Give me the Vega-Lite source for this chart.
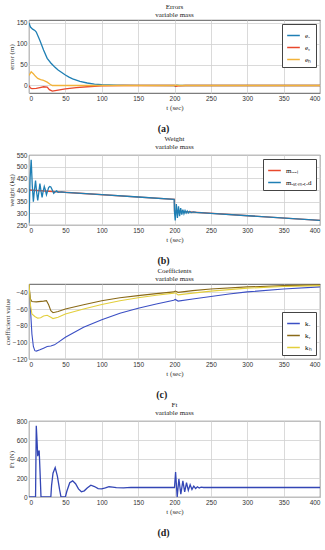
{
  "$schema": "https://vega.github.io/schema/vega-lite/v6.json",
  "padding": {"left": 2, "top": 2, "right": 6, "bottom": 1},
  "background": "white",
  "spacing": 0,
  "config": {
    "font": "Liberation Serif",
    "view": {"stroke": "#333333", "strokeWidth": 0.8},
    "axis": {"labelFont": "Liberation Sans", "titleFont": "Liberation Serif", "labelFontSize": 6.5, "titleFontSize": 7, "titleFontWeight": "normal", "labelColor": "#333", "titleColor": "#333", "gridColor": "#d0d0d0", "gridWidth": 0.8, "domain": false, "ticks": false, "labelPadding": 2, "titlePadding": 2},
    "legend": {"labelFont": "Liberation Serif", "labelFontSize": 7, "symbolType": "stroke", "symbolSize": 160, "strokeColor": "#444", "fillColor": "white", "padding": 4, "rowPadding": 1, "title": null, "labelLimit": 200},
    "title": {"font": "Liberation Serif", "fontSize": 7, "fontWeight": "normal", "color": "#222", "lineHeight": 8, "offset": 2}
  },
  "resolve": {"scale": {"color": "independent"}, "legend": {"color": "independent"}},
  "datasets": {
    "errs": [
      {"t": 0, "s": "eₓ", "v": 150}, {"t": 2, "s": "eₓ", "v": 140}, {"t": 5, "s": "eₓ", "v": 135}, {"t": 8, "s": "eₓ", "v": 132}, {"t": 10, "s": "eₓ", "v": 128}, {"t": 15, "s": "eₓ", "v": 108}, {"t": 20, "s": "eₓ", "v": 85}, {"t": 25, "s": "eₓ", "v": 65}, {"t": 30, "s": "eₓ", "v": 54}, {"t": 35, "s": "eₓ", "v": 45}, {"t": 40, "s": "eₓ", "v": 37}, {"t": 45, "s": "eₓ", "v": 31}, {"t": 50, "s": "eₓ", "v": 25}, {"t": 55, "s": "eₓ", "v": 20}, {"t": 60, "s": "eₓ", "v": 16}, {"t": 70, "s": "eₓ", "v": 10}, {"t": 80, "s": "eₓ", "v": 6}, {"t": 90, "s": "eₓ", "v": 3.5}, {"t": 100, "s": "eₓ", "v": 2}, {"t": 120, "s": "eₓ", "v": 1}, {"t": 150, "s": "eₓ", "v": 0.3}, {"t": 200, "s": "eₓ", "v": 0}, {"t": 201, "s": "eₓ", "v": -2}, {"t": 203, "s": "eₓ", "v": 1}, {"t": 207, "s": "eₓ", "v": 0}, {"t": 300, "s": "eₓ", "v": 0}, {"t": 400, "s": "eₓ", "v": 0},
      {"t": 0, "s": "eᵧ", "v": 0}, {"t": 2, "s": "eᵧ", "v": -6}, {"t": 4, "s": "eᵧ", "v": -7.5}, {"t": 10, "s": "eᵧ", "v": -7}, {"t": 15, "s": "eᵧ", "v": -5}, {"t": 20, "s": "eᵧ", "v": -3}, {"t": 25, "s": "eᵧ", "v": -4}, {"t": 28, "s": "eᵧ", "v": -10}, {"t": 32, "s": "eᵧ", "v": -13.5}, {"t": 40, "s": "eᵧ", "v": -11}, {"t": 50, "s": "eᵧ", "v": -8}, {"t": 65, "s": "eᵧ", "v": -5}, {"t": 80, "s": "eᵧ", "v": -3}, {"t": 100, "s": "eᵧ", "v": -1}, {"t": 130, "s": "eᵧ", "v": 0}, {"t": 200, "s": "eᵧ", "v": 0}, {"t": 202, "s": "eᵧ", "v": -2}, {"t": 206, "s": "eᵧ", "v": -1}, {"t": 215, "s": "eᵧ", "v": 0}, {"t": 400, "s": "eᵧ", "v": 0},
      {"t": 0, "s": "eₕ", "v": 24}, {"t": 3, "s": "eₕ", "v": 33}, {"t": 6, "s": "eₕ", "v": 28}, {"t": 9, "s": "eₕ", "v": 22}, {"t": 12, "s": "eₕ", "v": 17}, {"t": 16, "s": "eₕ", "v": 14}, {"t": 20, "s": "eₕ", "v": 12}, {"t": 25, "s": "eₕ", "v": 8}, {"t": 29, "s": "eₕ", "v": 3}, {"t": 32, "s": "eₕ", "v": 0}, {"t": 200, "s": "eₕ", "v": 0}, {"t": 202, "s": "eₕ", "v": 1}, {"t": 205, "s": "eₕ", "v": 0}, {"t": 400, "s": "eₕ", "v": 0}
    ],
    "weight": [
      {"t": 0, "s": "mᵣₑₐₗ", "v": 400}, {"t": 199.9, "s": "mᵣₑₐₗ", "v": 360}, {"t": 200, "s": "mᵣₑₐₗ", "v": 310}, {"t": 400, "s": "mᵣₑₐₗ", "v": 270},
      {"t": 0, "s": "mₑₛₜᵢₘₐₜₑd", "v": 260}, {"t": 1.5, "s": "mₑₛₜᵢₘₐₜₑd", "v": 450}, {"t": 3, "s": "mₑₛₜᵢₘₐₜₑd", "v": 530}, {"t": 4.5, "s": "mₑₛₜᵢₘₐₜₑd", "v": 420}, {"t": 6, "s": "mₑₛₜᵢₘₐₜₑd", "v": 350}, {"t": 7.5, "s": "mₑₛₜᵢₘₐₜₑd", "v": 400}, {"t": 9, "s": "mₑₛₜᵢₘₐₜₑd", "v": 440}, {"t": 10.5, "s": "mₑₛₜᵢₘₐₜₑd", "v": 390}, {"t": 12, "s": "mₑₛₜᵢₘₐₜₑd", "v": 355}, {"t": 13.5, "s": "mₑₛₜᵢₘₐₜₑd", "v": 390}, {"t": 15, "s": "mₑₛₜᵢₘₐₜₑd", "v": 428}, {"t": 16.5, "s": "mₑₛₜᵢₘₐₜₑd", "v": 395}, {"t": 18, "s": "mₑₛₜᵢₘₐₜₑd", "v": 368}, {"t": 19.5, "s": "mₑₛₜᵢₘₐₜₑd", "v": 395}, {"t": 21, "s": "mₑₛₜᵢₘₐₜₑd", "v": 415}, {"t": 22.5, "s": "mₑₛₜᵢₘₐₜₑd", "v": 400}, {"t": 24, "s": "mₑₛₜᵢₘₐₜₑd", "v": 380}, {"t": 25.5, "s": "mₑₛₜᵢₘₐₜₑd", "v": 395}, {"t": 27, "s": "mₑₛₜᵢₘₐₜₑd", "v": 410}, {"t": 28.5, "s": "mₑₛₜᵢₘₐₜₑd", "v": 415}, {"t": 30, "s": "mₑₛₜᵢₘₐₜₑd", "v": 413}, {"t": 32, "s": "mₑₛₜᵢₘₐₜₑd", "v": 400}, {"t": 34, "s": "mₑₛₜᵢₘₐₜₑd", "v": 386}, {"t": 36, "s": "mₑₛₜᵢₘₐₜₑd", "v": 392}, {"t": 38, "s": "mₑₛₜᵢₘₐₜₑd", "v": 396}, {"t": 40, "s": "mₑₛₜᵢₘₐₜₑd", "v": 390}, {"t": 45, "s": "mₑₛₜᵢₘₐₜₑd", "v": 392}, {"t": 50, "s": "mₑₛₜᵢₘₐₜₑd", "v": 390}, {"t": 100, "s": "mₑₛₜᵢₘₐₜₑd", "v": 380}, {"t": 150, "s": "mₑₛₜᵢₘₐₜₑd", "v": 370}, {"t": 199.5, "s": "mₑₛₜᵢₘₐₜₑd", "v": 360}, {"t": 200, "s": "mₑₛₜᵢₘₐₜₑd", "v": 305}, {"t": 201, "s": "mₑₛₜᵢₘₐₜₑd", "v": 270}, {"t": 202.5, "s": "mₑₛₜᵢₘₐₜₑd", "v": 340}, {"t": 204, "s": "mₑₛₜᵢₘₐₜₑd", "v": 280}, {"t": 205.5, "s": "mₑₛₜᵢₘₐₜₑd", "v": 330}, {"t": 207, "s": "mₑₛₜᵢₘₐₜₑd", "v": 288}, {"t": 208.5, "s": "mₑₛₜᵢₘₐₜₑd", "v": 322}, {"t": 210, "s": "mₑₛₜᵢₘₐₜₑd", "v": 294}, {"t": 211.5, "s": "mₑₛₜᵢₘₐₜₑd", "v": 316}, {"t": 213, "s": "mₑₛₜᵢₘₐₜₑd", "v": 298}, {"t": 214.5, "s": "mₑₛₜᵢₘₐₜₑd", "v": 312}, {"t": 216, "s": "mₑₛₜᵢₘₐₜₑd", "v": 301}, {"t": 217.5, "s": "mₑₛₜᵢₘₐₜₑd", "v": 310}, {"t": 219, "s": "mₑₛₜᵢₘₐₜₑd", "v": 302}, {"t": 221, "s": "mₑₛₜᵢₘₐₜₑd", "v": 308}, {"t": 223, "s": "mₑₛₜᵢₘₐₜₑd", "v": 303}, {"t": 226, "s": "mₑₛₜᵢₘₐₜₑd", "v": 306}, {"t": 230, "s": "mₑₛₜᵢₘₐₜₑd", "v": 304}, {"t": 250, "s": "mₑₛₜᵢₘₐₜₑd", "v": 300}, {"t": 400, "s": "mₑₛₜᵢₘₐₜₑd", "v": 270}
    ],
    "coef": [
      {"t": 0, "s": "kₓ", "v": -30}, {"t": 2, "s": "kₓ", "v": -60}, {"t": 4, "s": "kₓ", "v": -90}, {"t": 6, "s": "kₓ", "v": -105}, {"t": 8, "s": "kₓ", "v": -110}, {"t": 10, "s": "kₓ", "v": -110.5}, {"t": 15, "s": "kₓ", "v": -109}, {"t": 20, "s": "kₓ", "v": -107}, {"t": 25, "s": "kₓ", "v": -105}, {"t": 30, "s": "kₓ", "v": -104.5}, {"t": 35, "s": "kₓ", "v": -103}, {"t": 40, "s": "kₓ", "v": -100}, {"t": 50, "s": "kₓ", "v": -94}, {"t": 60, "s": "kₓ", "v": -89}, {"t": 75, "s": "kₓ", "v": -82}, {"t": 100, "s": "kₓ", "v": -73}, {"t": 125, "s": "kₓ", "v": -65}, {"t": 150, "s": "kₓ", "v": -59}, {"t": 175, "s": "kₓ", "v": -54}, {"t": 199, "s": "kₓ", "v": -49.5}, {"t": 201, "s": "kₓ", "v": -48.5}, {"t": 205, "s": "kₓ", "v": -50.5}, {"t": 225, "s": "kₓ", "v": -48}, {"t": 250, "s": "kₓ", "v": -45}, {"t": 275, "s": "kₓ", "v": -42}, {"t": 300, "s": "kₓ", "v": -39.5}, {"t": 350, "s": "kₓ", "v": -36}, {"t": 400, "s": "kₓ", "v": -33.5},
      {"t": 0, "s": "kᵧ", "v": -30}, {"t": 1, "s": "kᵧ", "v": -40}, {"t": 2, "s": "kᵧ", "v": -48}, {"t": 4, "s": "kᵧ", "v": -51}, {"t": 10, "s": "kᵧ", "v": -51.5}, {"t": 20, "s": "kᵧ", "v": -50.5}, {"t": 24, "s": "kᵧ", "v": -50}, {"t": 27, "s": "kᵧ", "v": -55}, {"t": 30, "s": "kᵧ", "v": -62}, {"t": 33, "s": "kᵧ", "v": -64.5}, {"t": 40, "s": "kᵧ", "v": -63}, {"t": 50, "s": "kᵧ", "v": -60}, {"t": 75, "s": "kᵧ", "v": -55}, {"t": 100, "s": "kᵧ", "v": -50}, {"t": 125, "s": "kᵧ", "v": -46.5}, {"t": 150, "s": "kᵧ", "v": -44}, {"t": 175, "s": "kᵧ", "v": -41.5}, {"t": 199, "s": "kᵧ", "v": -39.5}, {"t": 201, "s": "kᵧ", "v": -38.5}, {"t": 205, "s": "kᵧ", "v": -40}, {"t": 225, "s": "kᵧ", "v": -38}, {"t": 250, "s": "kᵧ", "v": -36}, {"t": 300, "s": "kᵧ", "v": -33.5}, {"t": 350, "s": "kᵧ", "v": -32}, {"t": 400, "s": "kᵧ", "v": -31},
      {"t": 0, "s": "kₕ", "v": -30}, {"t": 2, "s": "kₕ", "v": -55}, {"t": 4, "s": "kₕ", "v": -66}, {"t": 8, "s": "kₕ", "v": -69}, {"t": 12, "s": "kₕ", "v": -71}, {"t": 16, "s": "kₕ", "v": -70.5}, {"t": 20, "s": "kₕ", "v": -68.5}, {"t": 25, "s": "kₕ", "v": -67.5}, {"t": 30, "s": "kₕ", "v": -70}, {"t": 33, "s": "kₕ", "v": -71.5}, {"t": 40, "s": "kₕ", "v": -70}, {"t": 50, "s": "kₕ", "v": -66}, {"t": 75, "s": "kₕ", "v": -60}, {"t": 100, "s": "kₕ", "v": -54.5}, {"t": 125, "s": "kₕ", "v": -50}, {"t": 150, "s": "kₕ", "v": -46.5}, {"t": 175, "s": "kₕ", "v": -43.5}, {"t": 199, "s": "kₕ", "v": -41}, {"t": 201, "s": "kₕ", "v": -40.5}, {"t": 205, "s": "kₕ", "v": -43}, {"t": 225, "s": "kₕ", "v": -41}, {"t": 250, "s": "kₕ", "v": -38.5}, {"t": 300, "s": "kₕ", "v": -35}, {"t": 350, "s": "kₕ", "v": -33}, {"t": 400, "s": "kₕ", "v": -32}
    ],
    "ft": [
      {"t": 0, "v": 0}, {"t": 9, "v": 0}, {"t": 10, "v": 750}, {"t": 11, "v": 600}, {"t": 12, "v": 430}, {"t": 13, "v": 470}, {"t": 14, "v": 490}, {"t": 15, "v": 300}, {"t": 16.5, "v": 0}, {"t": 30, "v": 0}, {"t": 31, "v": 120}, {"t": 33, "v": 250}, {"t": 36, "v": 310}, {"t": 39, "v": 220}, {"t": 42, "v": 80}, {"t": 44, "v": 0}, {"t": 50, "v": 0}, {"t": 52, "v": 60}, {"t": 56, "v": 150}, {"t": 60, "v": 170}, {"t": 64, "v": 140}, {"t": 68, "v": 85}, {"t": 72, "v": 55}, {"t": 76, "v": 65}, {"t": 80, "v": 95}, {"t": 85, "v": 125}, {"t": 90, "v": 110}, {"t": 95, "v": 88}, {"t": 100, "v": 85}, {"t": 105, "v": 95}, {"t": 110, "v": 108}, {"t": 115, "v": 105}, {"t": 120, "v": 98}, {"t": 130, "v": 97}, {"t": 140, "v": 102}, {"t": 150, "v": 100}, {"t": 200, "v": 100}, {"t": 201.5, "v": 262}, {"t": 203.7, "v": 0}, {"t": 206, "v": 190}, {"t": 208.7, "v": 30}, {"t": 211.5, "v": 170}, {"t": 214, "v": 55}, {"t": 216.5, "v": 150}, {"t": 219, "v": 70}, {"t": 221.5, "v": 130}, {"t": 224, "v": 80}, {"t": 226.5, "v": 115}, {"t": 229, "v": 90}, {"t": 231.5, "v": 108}, {"t": 234, "v": 95}, {"t": 236.5, "v": 103}, {"t": 240, "v": 100}, {"t": 400, "v": 100}
    ]
  },
  "vconcat": [
    {
      "title": {"text": "(a)", "orient": "bottom", "anchor": "middle", "fontSize": 10, "fontWeight": "bold", "offset": 13},
      "resolve": {"scale": {"color": "independent"}, "legend": {"color": "independent"}},
      "vconcat": [{
        "width": 291, "height": 73,
        "title": {"text": ["Errors", "variable mass"]},
        "data": {"name": "errs"},
        "mark": {"type": "line", "strokeWidth": 1.3, "clip": true},
        "encoding": {
          "x": {"field": "t", "type": "quantitative", "scale": {"domain": [0, 400], "nice": false}, "axis": {"title": "t (sec)", "values": [0, 50, 100, 150, 200, 250, 300, 350, 400]}},
          "y": {"field": "v", "type": "quantitative", "scale": {"domain": [-18, 157], "nice": false, "zero": false}, "axis": {"title": "error (m)", "values": [0, 50, 100, 150]}},
          "color": {"field": "s", "type": "nominal", "sort": null, "scale": {"domain": ["eₓ", "eᵧ", "eₕ"], "range": ["#1f7fb4", "#e8482c", "#f2b33a"]}, "legend": {"orient": "top-right", "offset": 4}}
        }
      }]
    },
    {
      "title": {"text": "(b)", "orient": "bottom", "anchor": "middle", "fontSize": 10, "fontWeight": "bold", "offset": 13},
      "resolve": {"scale": {"color": "independent"}, "legend": {"color": "independent"}},
      "vconcat": [{
        "width": 291, "height": 70,
        "title": {"text": ["Weight", "variable mass"]},
        "data": {"name": "weight"},
        "mark": {"type": "line", "strokeWidth": 1.3, "clip": true},
        "encoding": {
          "x": {"field": "t", "type": "quantitative", "scale": {"domain": [0, 400], "nice": false}, "axis": {"title": "t (sec)", "values": [0, 50, 100, 150, 200, 250, 300, 350, 400]}},
          "y": {"field": "v", "type": "quantitative", "scale": {"domain": [250, 550], "nice": false, "zero": false}, "axis": {"title": "weight (kg)", "values": [250, 300, 350, 400, 450, 500, 550]}},
          "color": {"field": "s", "type": "nominal", "sort": null, "scale": {"domain": ["mᵣₑₐₗ", "mₑₛₜᵢₘₐₜₑd"], "range": ["#e8482c", "#1f7fb4"]}, "legend": {"orient": "top-right", "offset": 4}}
        }
      }]
    },
    {
      "title": {"text": "(c)", "orient": "bottom", "anchor": "middle", "fontSize": 10, "fontWeight": "bold", "offset": 13},
      "resolve": {"scale": {"color": "independent"}, "legend": {"color": "independent"}},
      "vconcat": [{
        "width": 291, "height": 75,
        "title": {"text": ["Coefficients", "variable mass"]},
        "data": {"name": "coef"},
        "mark": {"type": "line", "strokeWidth": 1.1, "clip": true},
        "encoding": {
          "x": {"field": "t", "type": "quantitative", "scale": {"domain": [0, 400], "nice": false}, "axis": {"title": "t (sec)", "values": [0, 50, 100, 150, 200, 250, 300, 350, 400]}},
          "y": {"field": "v", "type": "quantitative", "scale": {"domain": [-120, -30], "nice": false, "zero": false}, "axis": {"title": "coefficient value", "values": [-120, -100, -80, -60, -40]}},
          "color": {"field": "s", "type": "nominal", "sort": null, "scale": {"domain": ["kₓ", "kᵧ", "kₕ"], "range": ["#3b4fc4", "#8a6a18", "#e3cf3c"]}, "legend": {"orient": "bottom-right", "offset": 4}}
        }
      }]
    },
    {
      "title": {"text": "(d)", "orient": "bottom", "anchor": "middle", "fontSize": 10, "fontWeight": "bold", "offset": 13},
      "vconcat": [{
        "width": 291, "height": 76,
        "title": {"text": ["Ft", "variable mass"]},
        "data": {"name": "ft"},
        "mark": {"type": "line", "strokeWidth": 1.3, "color": "#3346b5", "clip": true},
        "encoding": {
          "x": {"field": "t", "type": "quantitative", "scale": {"domain": [0, 400], "nice": false}, "axis": {"title": "t (sec)", "values": [0, 50, 100, 150, 200, 250, 300, 350, 400]}},
          "y": {"field": "v", "type": "quantitative", "scale": {"domain": [0, 800], "nice": false}, "axis": {"title": "Ft (N)", "values": [0, 200, 400, 600, 800]}}
        }
      }]
    }
  ]
}
